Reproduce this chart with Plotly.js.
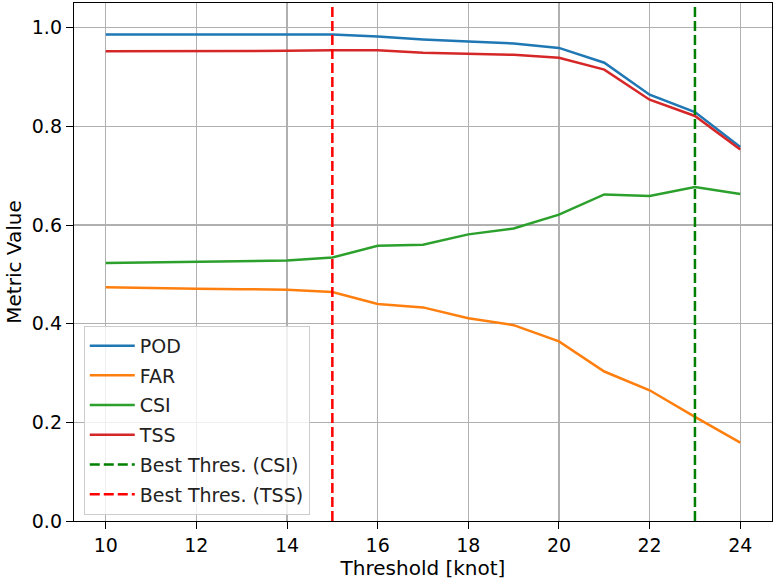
<!DOCTYPE html>
<html>
<head>
<meta charset="utf-8">
<script src="https://cdn.plot.ly/plotly-3.0.1.min.js"></script>
<style>
  html, body { margin: 0; padding: 0; background: #fff; }
  #chart { width: 775px; height: 585px; }
</style>
</head>
<body>
<div id="chart"></div>
<script>
// thresholds and metric values
var thresholds = [10, 11, 12, 13, 14, 15, 16, 17, 18, 19, 20, 21, 22, 23, 24];
var pod = [0.986, 0.986, 0.986, 0.986, 0.986, 0.986, 0.982, 0.976, 0.972, 0.968, 0.959, 0.929, 0.864, 0.829, 0.758];
var far = [0.474, 0.472, 0.471, 0.470, 0.469, 0.464, 0.440, 0.433, 0.411, 0.397, 0.364, 0.303, 0.265, 0.211, 0.159];
var csi = [0.523, 0.524, 0.525, 0.527, 0.528, 0.534, 0.558, 0.560, 0.581, 0.593, 0.621, 0.662, 0.659, 0.677, 0.663];
var tss = [0.952, 0.952, 0.953, 0.953, 0.953, 0.954, 0.954, 0.949, 0.947, 0.945, 0.939, 0.915, 0.854, 0.821, 0.753];
var bestCsi = 23;
var bestTss = 15;
var yMax = 1.05;

var font = 'DejaVu Sans, sans-serif';

function metric(name, y, color) {
  return {
    x: thresholds, y: y, name: name, type: 'scatter', mode: 'lines',
    legendgroup: name,
    line: {color: color, width: 2.5}
  };
}

function vline(name, xv, color) {
  return {
    x: [xv, xv], y: [0, yMax], name: name, type: 'scatter', mode: 'lines',
    legendgroup: name,
    line: {color: color, width: 2.5, dash: '10px,4px'}
  };
}

var data = [
  metric('POD', pod, '#1f77b4'),
  metric('FAR', far, '#ff7f0e'),
  metric('CSI', csi, '#2ca02c'),
  metric('TSS', tss, '#d62728'),
  vline('Best Thres. (CSI)', bestCsi, '#008000'),
  vline('Best Thres. (TSS)', bestTss, '#ff0000')
];

var layout = {
  width: 775, height: 585,
  margin: {l: 74, r: 3, t: 3, b: 64},
  paper_bgcolor: '#fff', plot_bgcolor: '#fff',
  font: {family: font, size: 19, color: '#000'},
  showlegend: true,
  legend: {
    x: 0.014, y: 0.012, xanchor: 'left', yanchor: 'bottom',
    bgcolor: 'rgba(255,255,255,0.8)', bordercolor: '#cccccc', borderwidth: 1,
    font: {family: font, size: 19, color: '#222'},
    traceorder: 'grouped', tracegroupgap: 2, itemwidth: 45
  },
  xaxis: {
    range: [9.3, 24.7], tickvals: [10, 12, 14, 16, 18, 20, 22, 24],
    showgrid: true, gridcolor: '#b0b0b0', gridwidth: 1.2,
    showline: true, mirror: true, linecolor: '#000', linewidth: 1.2,
    ticks: 'outside', ticklen: 7, tickcolor: '#000',
    zeroline: false,
    title: {text: 'Threshold [knot]', font: {family: font, size: 20}, standoff: 6}
  },
  yaxis: {
    range: [0, yMax], tickvals: [0, 0.2, 0.4, 0.6, 0.8, 1.0], tickformat: '.1f',
    showgrid: true, gridcolor: '#b0b0b0', gridwidth: 1.2,
    showline: true, mirror: true, linecolor: '#000', linewidth: 1.2,
    ticks: 'outside', ticklen: 7, tickcolor: '#000',
    zeroline: false,
    title: {text: 'Metric Value', font: {family: font, size: 20}, standoff: 4}
  }
};

Plotly.newPlot('chart', data, layout, {displayModeBar: false, staticPlot: true});
</script>
</body>
</html>
